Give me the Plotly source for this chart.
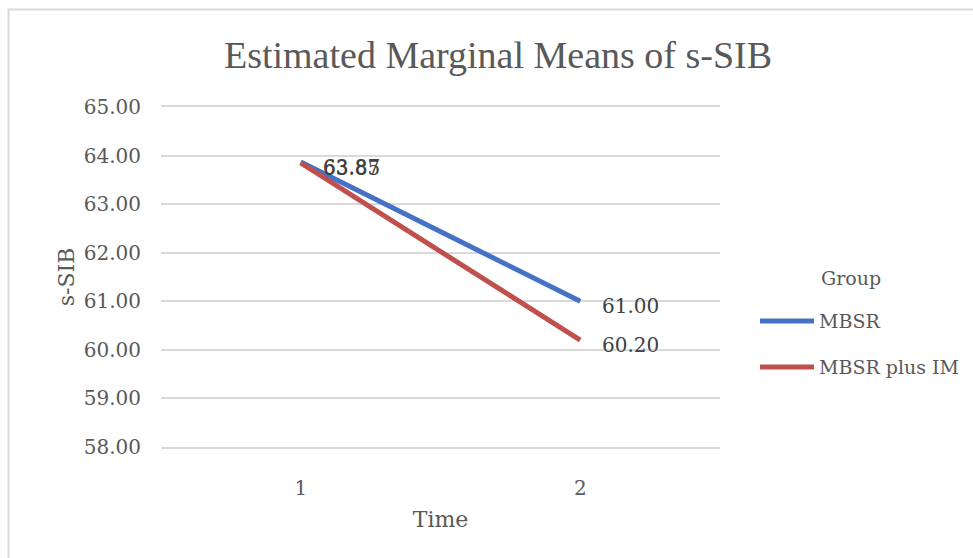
import plotly.graph_objects as go

# Estimated marginal means of s-SIB by group and time
times = [1, 2]
groups = ["MBSR", "MBSR plus IM"]
mbsr = [63.87, 61.00]
mbsr_plus_im = [63.85, 60.20]
series = [mbsr, mbsr_plus_im]
colors = ["#4472C4", "#C0504D"]
y_ticks = [58, 59, 60, 61, 62, 63, 64, 65]

W, H = 973, 558
L, R, T, B = 161, 253, 107, 111
PW, PH = W - L - R, H - T - B

def px(x):
    return (x - L) / PW

def py(y):
    return (H - B - y) / PH

SERIF = "DejaVu Serif"
TEXT = "#595959"
GRID = "#D9D9D9"

fig = go.Figure()
for name, vals, col in zip(groups, series, colors):
    fig.add_trace(go.Scatter(
        x=times, y=vals, mode="lines", name=name,
        line=dict(color=col, width=5), showlegend=False,
    ))
    for t, v in zip(times, vals):
        fig.add_annotation(
            x=t, y=v, xref="x", yref="y", text=f"{v:.2f}", showarrow=False,
            xanchor="left", yanchor="middle", xshift=20, yshift=-5,
            font=dict(family=SERIF, size=20, color="#404040"),
        )

# legend drawn beside the plot
fig.add_annotation(
    x=px(819), y=py(278), xref="paper", yref="paper", text="Group",
    showarrow=False, xanchor="left", yanchor="middle",
    font=dict(family=SERIF, size=19, color=TEXT),
)
for i, (name, col) in enumerate(zip(groups, colors)):
    yy = 321 + 46 * i
    fig.add_shape(type="line", xref="paper", yref="paper",
                  x0=px(760), x1=px(814), y0=py(yy), y1=py(yy),
                  line=dict(color=col, width=5))
    fig.add_annotation(
        x=px(817), y=py(yy), xref="paper", yref="paper", text=name,
        showarrow=False, xanchor="left", yanchor="middle",
        font=dict(family=SERIF, size=19, color=TEXT),
    )

# chart frame
fig.add_shape(type="rect", xref="paper", yref="paper",
              x0=px(8.5), x1=px(1010), y0=py(9.5), y1=py(620),
              line=dict(color=GRID, width=2), layer="below")

fig.update_layout(
    width=W, height=H,
    margin=dict(l=L, r=R, t=T, b=B),
    paper_bgcolor="white", plot_bgcolor="white",
    title=dict(text="Estimated Marginal Means of s-SIB", x=498 / W, xref="container",
               xanchor="center", y=1 - 55 / H, yanchor="middle",
               font=dict(family="Liberation Serif", size=38, color=TEXT)),
    xaxis=dict(range=[0.5, 2.5], tickvals=times, ticktext=[str(t) for t in times],
               showgrid=False, zeroline=False,
               showline=True, mirror=True, linecolor=GRID, linewidth=2,
               ticklabelstandoff=22,
               tickfont=dict(family=SERIF, size=20, color=TEXT),
               title=dict(text="Time", standoff=13,
                          font=dict(family=SERIF, size=22, color=TEXT))),
    yaxis=dict(range=[58, 65], tickvals=y_ticks, tickformat=".2f",
               showgrid=True, gridcolor=GRID, gridwidth=2, zeroline=False,
               showline=False, ticklabelstandoff=19,
               tickfont=dict(family=SERIF, size=20, color=TEXT),
               title=dict(text="s-SIB", standoff=3,
                          font=dict(family=SERIF, size=22, color=TEXT))),
)

fig.write_html("out.html")
